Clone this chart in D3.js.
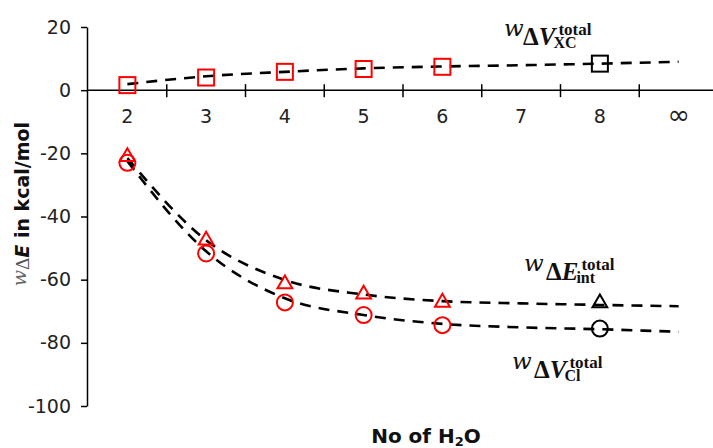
<!DOCTYPE html>
<meta charset="utf-8">
<style>
body { margin: 0; background: #fff; }
.axis path, .axis line { stroke: #000; stroke-width: 1.5px; }
.axis text { font-family: "DejaVu Sans", sans-serif; font-size: 19px; fill: #222; }
.fit { fill: none; stroke: #000; stroke-width: 2.6px; stroke-dasharray: 11,8; }
.mk { fill: none; stroke-width: 2px; }
.lbl { font-family: "Liberation Serif", "DejaVu Serif", serif; font-weight: bold; fill: #111; }
</style>
<body>
<script src="https://cdnjs.cloudflare.com/ajax/libs/d3/7.8.5/d3.min.js"></script>
<script>

// categories on the x axis (number of water molecules)
var cats = ["2", "3", "4", "5", "6", "7", "8", "\u221E"];

// measured points
var ptCats = ["2", "3", "4", "5", "6", "8"];
var xcVals   = [1.6, 4.0, 5.8, 6.7, 7.4, 8.4];
var eintVals = [-21.1, -47.5, -61.4, -64.6, -67.2, -67.4];
var vclVals  = [-23.0, -51.7, -67.2, -71.2, -74.4, -75.5];
var ptColors = ["red", "red", "red", "red", "red", "black"];

// dashed trend curves, one value per category
var xcFit   = [1.9, 4.4, 5.8, 6.9, 7.5, 7.9, 8.4, 9.0];
var eintFit = [-21.5, -47.5, -60.1, -64.7, -66.8, -67.5, -68.0, -68.4];
var vclFit  = [-22.5, -51.0, -65.9, -71.2, -74.0, -75.1, -75.7, -76.5];

var yTicks = [20, 0, -20, -40, -60, -80, -100];

var W = 713, H = 448;

var svg = d3.select("body").append("svg")
    .attr("width", W)
    .attr("height", H);

var x = d3.scaleBand().domain(cats).range([88, 718]);
var cx = function(c) { return x(c) + x.bandwidth() / 2; };
var y = d3.scaleLinear().domain([-100, 20]).range([406, 27]);

// y axis
svg.append("g")
    .attr("class", "axis")
    .attr("transform", "translate(87,0)")
    .call(d3.axisLeft(y).tickValues(yTicks).tickSize(6).tickPadding(10).tickSizeOuter(0)
      .tickFormat(function(d) { return String(d); }));

// x axis at y = 0, labels below, cross ticks between categories
var xa = svg.append("g")
    .attr("class", "axis")
    .attr("transform", "translate(0," + y(0) + ")")
    .call(d3.axisBottom(x).tickSize(0).tickPadding(19).tickSizeOuter(0));
xa.select(".domain").attr("d", "M87,0H" + W);
// the infinity label is drawn larger
xa.selectAll(".tick text")
    .filter(function(d) { return d === "\u221E"; })
    .style("font-size", "27px")
    .attr("dy", "0.55em");
xa.selectAll(".sep")
    .data(cats.slice(1))
  .enter().append("line")
    .attr("x1", function(d) { return x(d); })
    .attr("x2", function(d) { return x(d); })
    .attr("y1", -6)
    .attr("y2", 7);

// dashed curves
var line = d3.line()
    .x(function(d, i) { return cx(cats[i]); })
    .y(function(d) { return y(d); })
    .curve(d3.curveMonotoneX);

[xcFit, eintFit, vclFit].forEach(function(s) {
  svg.append("path").datum(s).attr("class", "fit").attr("d", line);
});

// markers
svg.selectAll(".sq")
    .data(xcVals)
  .enter().append("rect")
    .attr("class", "mk")
    .attr("x", function(d, i) { return cx(ptCats[i]) - 8; })
    .attr("y", function(d) { return y(d) - 8; })
    .attr("width", 16)
    .attr("height", 16)
    .attr("stroke", function(d, i) { return ptColors[i]; });

var tri = d3.symbol().type(d3.symbolTriangle).size(95);
svg.selectAll(".tri")
    .data(eintVals)
  .enter().append("path")
    .attr("class", "mk")
    .attr("d", tri)
    .attr("transform", function(d, i) { return "translate(" + cx(ptCats[i]) + "," + y(d) + ")"; })
    .attr("stroke", function(d, i) { return ptColors[i]; });

svg.selectAll(".circ")
    .data(vclVals)
  .enter().append("circle")
    .attr("class", "mk")
    .attr("cx", function(d, i) { return cx(ptCats[i]); })
    .attr("cy", function(d) { return y(d); })
    .attr("r", 8)
    .attr("stroke", function(d, i) { return ptColors[i]; });

// series labels: script-like w, Delta + symbol, superscript and subscript
function seriesLabel(wx, dx, base, sym, sub) {
  var g = svg.append("g").attr("class", "lbl");
  g.append("text")
      .attr("x", wx)
      .attr("y", base - 9)
      .style("font-family", "'DejaVu Serif', serif")
      .style("font-style", "italic")
      .style("font-weight", "normal")
      .style("font-size", "23px")
      .text("w");
  var t = g.append("text")
      .attr("x", dx)
      .attr("y", base)
      .style("font-size", "25px");
  t.append("tspan").text("\u0394");
  t.append("tspan").style("font-style", "italic").text(sym);
  var end = dx + t.node().getComputedTextLength();
  g.append("text")
      .attr("x", end + 3)
      .attr("y", base - 10)
      .style("font-size", "17px")
      .text("total");
  g.append("text")
      .attr("x", end - 2)
      .attr("y", base + 3)
      .style("font-size", "16px")
      .text(sub);
}
seriesLabel(504, 523, 45, "V", "XC");
seriesLabel(524, 546, 280, "E", "int");
seriesLabel(512, 534, 378, "V", "Cl");

// y axis title
var yt = svg.append("text")
    .attr("transform", "translate(29,204) rotate(-90)")
    .attr("text-anchor", "middle")
    .style("font-family", "'DejaVu Sans', sans-serif")
    .style("font-size", "19px")
    .style("font-weight", "bold")
    .style("fill", "#111");
yt.append("tspan").style("font-family", "'DejaVu Serif', serif").style("font-weight", "normal")
    .style("font-style", "italic").style("fill", "#666").style("font-size", "19px")
    .attr("dy", -3).text("w");
yt.append("tspan").style("font-family", "'Liberation Serif', serif").style("font-weight", "normal")
    .style("fill", "#555").attr("dy", 3).text("\u0394");
yt.append("tspan").style("font-style", "italic").text("E");
yt.append("tspan").text(" in kcal/mol");

// x axis title
var xt = svg.append("text")
    .attr("x", 426)
    .attr("y", 443)
    .attr("text-anchor", "middle")
    .style("font-family", "'DejaVu Sans', sans-serif")
    .style("font-size", "20px")
    .style("font-weight", "bold")
    .style("fill", "#111");
xt.append("tspan").text("No of H");
xt.append("tspan").style("font-size", "13px").attr("dy", 3).text("2");
xt.append("tspan").attr("dy", -3).text("O");

</script>
</body>
